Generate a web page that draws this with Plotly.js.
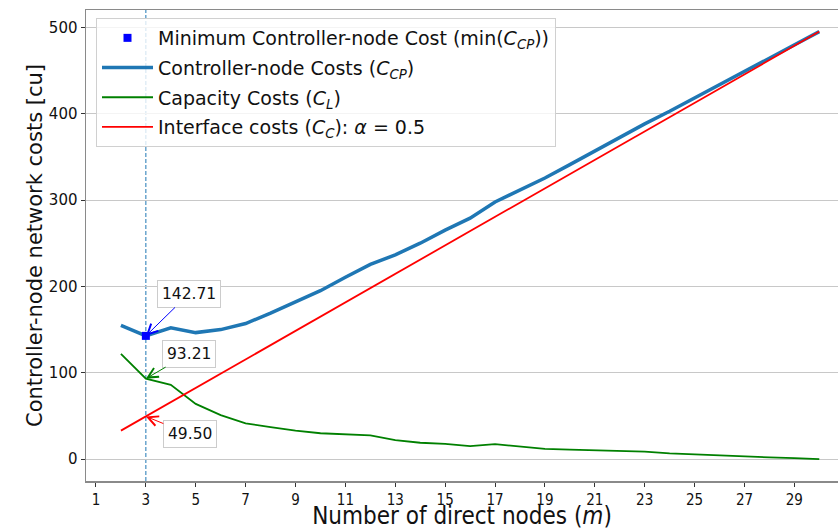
<!DOCTYPE html>
<html>
<head>
<meta charset="utf-8">
<script src="https://cdn.plot.ly/plotly-3.0.1.min.js"></script>
<style>
  html, body { margin: 0; padding: 0; background: #ffffff; overflow: hidden; }
  #chart { width: 838px; height: 530px; }
</style>
</head>
<body>
<div id="chart"></div>
<script>
// Number of direct nodes m
const nodes = [2, 3, 4, 5, 6, 7, 8, 9, 10, 11, 12, 13, 14, 15, 16,
               17, 18, 19, 20, 21, 22, 23, 24, 25, 26, 27, 28, 29, 30];

// Controller-node costs C_CP
const controllerNodeCosts = [155, 142.71, 152, 146.5, 150, 157, 169, 181.5, 195, 210.5,
                             225.5, 236.5, 250, 265.2, 279, 297.8, 311.3, 325.5, 341, 356.9,
                             373, 388.2, 402.7, 417.9, 433.2, 448.6, 464, 479.6, 495];

// Capacity costs C_L
const capacityCosts = [122, 93.21, 86, 64, 51, 41.5, 37, 33, 30, 29,
                       27.5, 22, 19, 17.7, 15, 17.3, 14.3, 12, 11, 10.4,
                       10, 8.7, 6.7, 5.4, 4.2, 3.1, 2, 1.1, 0];

// Interface costs C_C (alpha = 0.5)
const interfaceCosts = [33, 49.5, 66, 82.5, 99, 115.5, 132, 148.5, 165, 181.5,
                        198, 214.5, 231, 247.5, 264, 280.5, 297, 313.5, 330, 346.5,
                        363, 379.5, 396, 412.5, 429, 445.5, 462, 478.5, 495];

// Optimum
const minNodes = 3;
const minCost = 142.71;
const minCapacity = 93.21;
const minInterface = 49.50;

const xTicks = [1, 3, 5, 7, 9, 11, 13, 15, 17, 19, 21, 23, 25, 27, 29];
const yTicks = [0, 100, 200, 300, 400, 500];

const FONT = 'DejaVu Sans, Verdana, sans-serif';
const NARROW = 'DejaVu Sans Condensed, Liberation Sans Narrow, DejaVu Sans, sans-serif';

const traces = [
  {
    x: nodes, y: controllerNodeCosts, type: 'scatter', mode: 'lines',
    name: 'Controller-node Costs (<i>C</i><sub><i>CP</i></sub>)',
    line: { color: '#1f77b4', width: 3.5 },
    legendrank: 2, legendgroup: 'b'
  },
  {
    x: nodes, y: capacityCosts, type: 'scatter', mode: 'lines',
    name: 'Capacity Costs (<i>C</i><sub><i>L</i></sub>)',
    line: { color: '#008000', width: 1.8 },
    legendrank: 3, legendgroup: 'c'
  },
  {
    x: nodes, y: interfaceCosts, type: 'scatter', mode: 'lines',
    name: 'Interface costs (<i>C</i><sub><i>C</i></sub>): <i>α</i> = 0.5',
    line: { color: '#ff0000', width: 1.8 },
    legendrank: 4, legendgroup: 'd'
  },
  {
    x: [minNodes], y: [minCost], type: 'scatter', mode: 'markers',
    name: 'Minimum Controller-node Cost (min(<i>C</i><sub><i>CP</i></sub>))',
    marker: { color: '#0000ff', symbol: 'square', size: 8 },
    legendrank: 1, legendgroup: 'a'
  }
];

function valueLabel(y, text, color, ax, ay) {
  return {
    x: minNodes, y: y, xref: 'x', yref: 'y',
    text: text, showarrow: true,
    ax: ax, ay: ay, axref: 'pixel', ayref: 'pixel',
    arrowhead: 5, arrowsize: 2, arrowwidth: 1, arrowcolor: color,
    font: { family: FONT, size: 15.5, color: '#111111' },
    bgcolor: '#ffffff', bordercolor: '#cccccc', borderwidth: 1, borderpad: 4
  };
}

const layout = {
  width: 838, height: 530,
  margin: { l: 86, r: 0, t: 10, b: 49, pad: 0 },
  paper_bgcolor: '#ffffff', plot_bgcolor: '#ffffff',
  showlegend: true,
  hovermode: false,
  font: { family: FONT, color: '#111111' },
  xaxis: {
    range: [0.6, 30.75],
    tickmode: 'array', tickvals: xTicks,
    ticks: 'outside', ticklen: 4, tickwidth: 1, tickcolor: '#333333',
    tickfont: { family: NARROW, size: 15, color: '#111111' },
    showgrid: false, zeroline: false,
    showline: true, linecolor: '#8a8a8a', linewidth: 1.5, mirror: true,
    title: { text: 'Number of direct nodes (<i>m</i>)', font: { family: NARROW, size: 24, color: '#111111' }, standoff: 6 }
  },
  yaxis: {
    range: [-25.3, 520],
    tickmode: 'array', tickvals: yTicks,
    ticks: 'outside', ticklen: 4, tickwidth: 1, tickcolor: '#333333',
    tickfont: { family: FONT, size: 15, color: '#111111' },
    showgrid: true, gridcolor: '#c8c8c8', gridwidth: 1,
    zeroline: false,
    showline: true, linecolor: '#8a8a8a', linewidth: 1.5,
    title: { text: 'Controller-node network costs [cu]', font: { family: FONT, size: 21, color: '#111111' }, standoff: 0 }
  },
  legend: {
    x: 0.0133, y: 0.983, xanchor: 'left', yanchor: 'top',
    bgcolor: 'rgba(255,255,255,0.8)', bordercolor: '#d0d0d0', borderwidth: 1,
    font: { family: FONT, size: 19, color: '#111111' },
    tracegroupgap: 2, itemwidth: 51
  },
  shapes: [
    {
      type: 'line', xref: 'x', yref: 'paper',
      x0: minNodes, x1: minNodes, y0: 0, y1: 1,
      line: { color: '#1f77b4', width: 1, dash: '4px,2px' },
      layer: 'below'
    }
  ],
  annotations: [
    valueLabel(minCost, '142.71', '#0000ff', 43, -42),
    valueLabel(minCapacity, '93.21', '#008000', 43, -25),
    valueLabel(minInterface, '49.50', '#ff0000', 44, 18)
  ]
};

Plotly.newPlot('chart', traces, layout, { staticPlot: true, displayModeBar: false });
</script>
</body>
</html>
